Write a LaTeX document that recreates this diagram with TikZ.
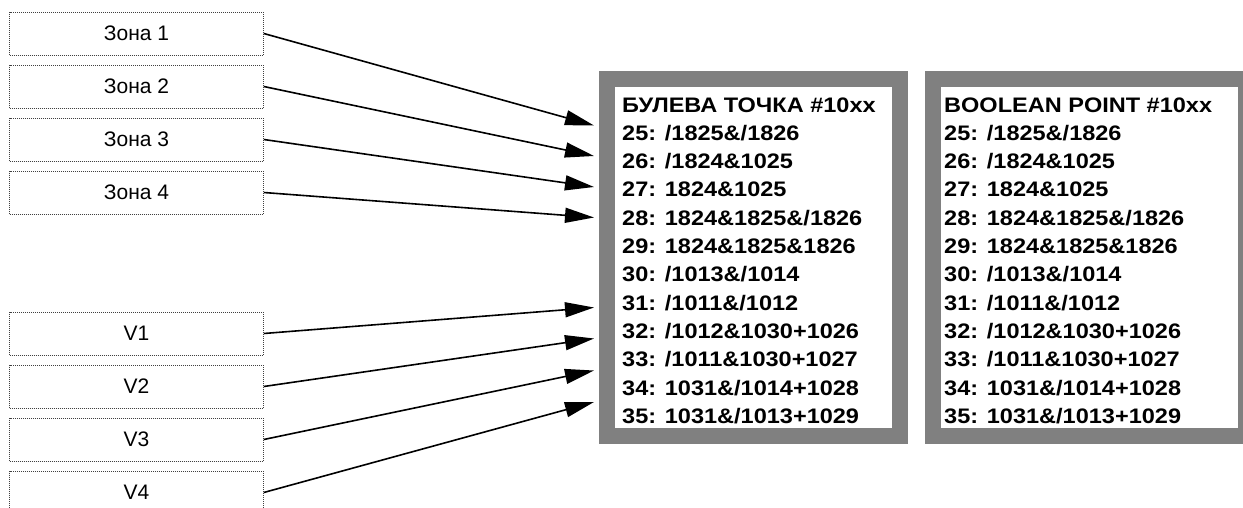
\documentclass[tikz,border=0pt]{standalone}
\usepackage{fontspec}
\setmainfont{Liberation Sans}
\newfontfamily\zonefont{Liberation Sans}
\newfontfamily\pointfont{Liberation Sans}[FakeStretch=1.12]
\usetikzlibrary{arrows.meta}
\definecolor{framegray}{RGB}{128,128,128}
\tikzset{
  srcbox/.style={draw=black!75, dash pattern=on 1pt off 1pt, line width=0.9pt,
    minimum width=253.7pt, minimum height=43pt, inner sep=0pt,
    font=\zonefont\fontsize{21}{24}\selectfont},
  pointbox/.style={draw=framegray, line width=16pt, fill=white, inner sep=0pt},
  pointtext/.style={anchor=base west, align=left, inner sep=0pt,
    font=\pointfont\bfseries\fontsize{21}{28.3}\selectfont},
  link/.style={line width=1.6pt, -{Triangle[length=29pt,width=15pt]}},
}
\begin{document}
\begin{tikzpicture}[x=1pt,y=-1pt]
\useasboundingbox (0,0) rectangle (1243,508);
% source boxes
\node[srcbox] (z1) at (136.5,33.5) {Зона 1};
\node[srcbox] (z2) at (136.5,86.5) {Зона 2};
\node[srcbox] (z3) at (136.5,139.5) {Зона 3};
\node[srcbox] (z4) at (136.5,192.5) {Зона 4};
\node[srcbox] (v1) at (136.5,333.5) {V1};
\node[srcbox] (v2) at (136.5,386.5) {V2};
\node[srcbox] (v3) at (136.5,439.5) {V3};
\node[srcbox] (v4) at (136.5,492.5) {V4};
% boolean point boxes
\node[pointbox, minimum width=293pt, minimum height=357pt] (ru) at (753.5,257.5) {};
\node[pointbox, minimum width=313pt, minimum height=357pt] (en) at (1089.5,257.5) {};
\node[pointtext] (rutext) at (622,423.3) {БУЛЕВА ТОЧКА \#10xx\\25: /1825\&/1826\\26: /1824\&1025\\27: 1824\&1025\\28: 1824\&1825\&/1826\\29: 1824\&1825\&1826\\30: /1013\&/1014\\31: /1011\&/1012\\32: /1012\&1030+1026\\33: /1011\&1030+1027\\34: 1031\&/1014+1028\\35: 1031\&/1013+1029};
\node[pointtext] (entext) at (944,423.3) {BOOLEAN POINT \#10xx\\25: /1825\&/1826\\26: /1824\&1025\\27: 1824\&1025\\28: 1824\&1825\&/1826\\29: 1824\&1825\&1826\\30: /1013\&/1014\\31: /1011\&/1012\\32: /1012\&1030+1026\\33: /1011\&1030+1027\\34: 1031\&/1014+1028\\35: 1031\&/1013+1029};
% arrow tips
\coordinate (t1) at (594,125.5);
\coordinate (t2) at (594,156);
\coordinate (t3) at (594,187);
\coordinate (t4) at (594,217.5);
\coordinate (t5) at (594,307.5);
\coordinate (t6) at (594,338.5);
\coordinate (t7) at (594,370.5);
\coordinate (t8) at (594,402);
\draw[link] (z1.east) -- (t1);
\draw[link] (z2.east) -- (t2);
\draw[link] (z3.east) -- (t3);
\draw[link] (z4.east) -- (t4);
\draw[link] (v1.east) -- (t5);
\draw[link] (v2.east) -- (t6);
\draw[link] (v3.east) -- (t7);
\draw[link] (v4.east) -- (t8);
\end{tikzpicture}
\end{document}
